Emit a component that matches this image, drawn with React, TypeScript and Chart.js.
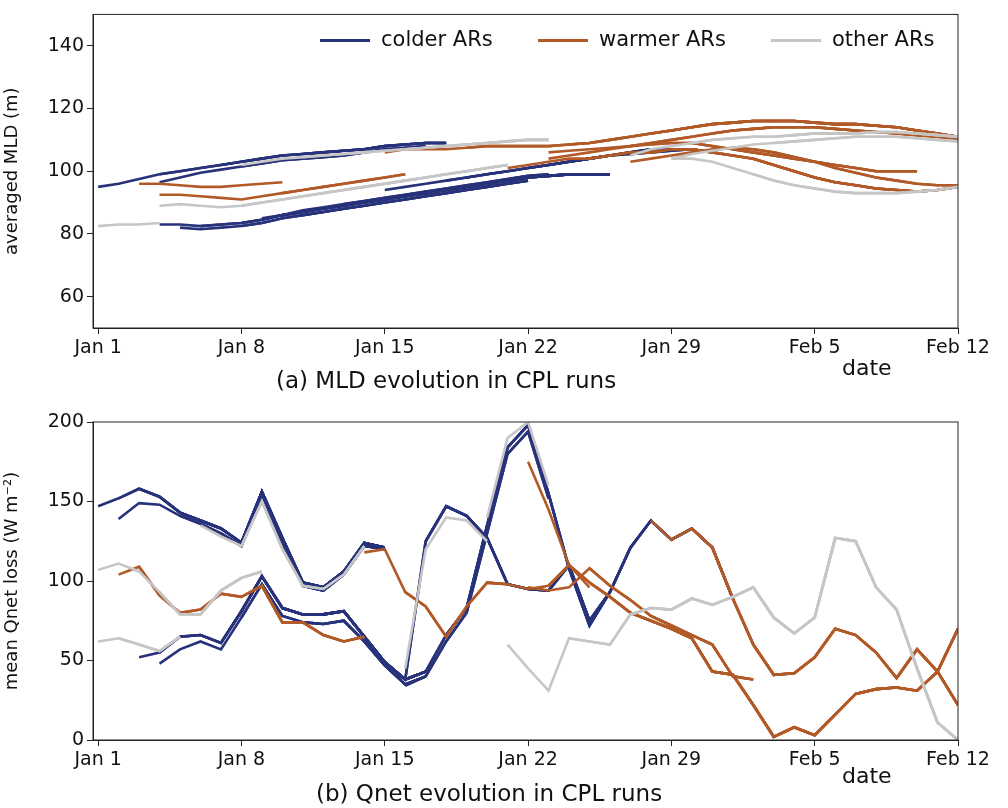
import React, { useEffect, useRef } from "react";
import { Chart, registerables } from "chart.js";
Chart.register(...registerables);

const NAVY = "#27327a";
const ORANGE = "#b25a27";
const GRAY = "#c6c6c6";

const tickDays = [0, 7, 14, 21, 28, 35, 42];
const tickLabels = ["Jan 1", "Jan 8", "Jan 15", "Jan 22", "Jan 29", "Feb 5", "Feb 12"];
const legendLabels = ["colder ARs", "warmer ARs", "other ARs"];
const mldTicks = [60, 80, 100, 120, 140];
const qTicks = [0, 50, 100, 150, 200];

// top panel: MLD (m)
const mldNavyUpper = [95, 96, 97.5, 99, 100, 101, 102, 103, 104, 105, 105.5, 106, 106.5, 107, 108, 108.5, 109, 109];
const mldNavyUpper2 = [96.5, 98, 99.5, 100.5, 101.5, 102.5, 103.5, 104, 104.5, 105, 106, 107, 107.5, 108];
const mldNavyLower = [83, 83, 82.5, 83, 83.5, 84.5, 86, 87, 88, 89, 90, 91, 92, 93, 94, 95, 96, 97, 98, 98.5, 99, 99, 99];
const mldNavyLower2 = [82, 81.5, 82, 82.5, 83.5, 85, 86, 87, 88, 89, 90, 91, 92, 93, 94, 95, 96, 97];
const mldNavyLower3 = [85, 86, 87.5, 88.5, 89.5, 90.5, 91.5, 92.5, 93.5, 94.5, 95.5, 96.5, 97.5, 98.5, 99];
const mldNavyMid = [94, 95, 96, 97, 98, 99, 100, 101, 102, 103, 104, 105, 106, 107, 107, 107, 106];
const mldNavyMid2 = [97, 98, 99, 100, 101, 102, 103, 104, 105, 105.5, 106, 106.5, 107];
const mldOrangeUpper = [106, 107, 107, 107, 107.5, 108, 108, 108, 108, 108.5, 109, 110, 111, 112, 113, 114, 115, 115.5, 116, 116, 116, 115.5, 115, 115, 114.5, 114, 113, 112, 111];
const mldOrangeUpper2 = [106, 106.5, 107, 107.5, 108, 109, 110, 111, 112, 113, 113.5, 114, 114, 114, 113.5, 113, 112.5, 112, 111.5, 111, 110];
const mldOrangeLower = [101, 102, 103, 104, 104, 105, 106, 106, 107, 107, 106, 105, 104, 102, 100, 98, 96.5, 95.5, 94.5, 94, 93.5, 94, 95];
const mldOrangeLower2 = [103, 104, 105, 106, 107, 107.5, 107, 106, 104.5, 103, 101, 99.5, 98, 97, 96, 95.5, 95.5];
const mldOrangeMid = [104, 105, 106, 107, 108, 108.5, 109, 109, 108, 107, 106, 105, 104, 103, 102, 101, 100, 100, 100];
const mldOrangeLeftA = [96, 96, 95.5, 95, 95, 95.5, 96, 96.5];
const mldOrangeLeftB = [92.5, 92.5, 92, 91.5, 91, 92, 93, 94, 95, 96, 97, 98, 99];
const mldGrayA = [82.5, 83, 83, 83.5];
const mldGrayB = [89, 89.5, 89, 88.5, 89, 90, 91, 92, 93, 94, 95, 96, 97, 98, 99, 100, 101, 102];
const mldGrayC = [102, 103, 104, 104.5, 105, 105.5, 106, 106.5, 107, 107.5, 108, 108.5, 109, 109.5, 110, 110];
const mldGrayD = [105, 107, 108, 109, 110, 110.5, 111, 111, 111.5, 112, 112, 112, 112.5, 112.5, 112, 111.5, 111];
const mldGrayD2 = [104, 105.5, 106.5, 107.5, 108.5, 109, 109.5, 110, 110.5, 111, 111, 111, 110.5, 110, 109.5];
const mldGrayE = [104, 104, 103, 101, 99, 97, 95.5, 94.5, 93.5, 93, 93, 93, 93.5, 94, 95];

// bottom panel: Qnet loss (W m-2)
const qNavyHigh = [147, 152, 158, 153, 143, 138, 133, 124, 156, 127, 99, 96, 106, 124, 121];
const qNavyHigh2 = [139, 149, 148, 141, 136, 130, 122, 153, 124, 97, 94, 104, 122, 120];
const qOrangeHigh = [118, 120, 93, 84, 65, 84, 99, 98];
const qNavyMid = [52, 55, 65, 66, 61, 81, 103, 83, 79, 79, 81, 65, 49, 38, 43];
const qNavyMid2 = [48, 57, 62, 57, 77, 98, 78, 74, 73, 75, 62, 47, 35, 40];
const qNavyL1 = [49, 38, 125, 147, 141, 127, 98, 95, 94, 110, 75, 93, 121, 138, 126, 133, 121, 89];
const qOrangeL1 = [138, 126, 133, 121, 89, 60, 41, 42, 52, 70, 66, 55, 39, 57, 43, 22];
const qNavyL2 = [38, 43, 66, 83, 135, 184, 198, 155, 108, 72, 93];
const qNavyL2b = [34, 40, 62, 80, 130, 180, 194, 152];
const qGrayHigh = [135, 128, 122, 150, 120, 97, 95, 104, 122];
const qGrayLeft = [107, 111, 106, 93, 79, 79, 94, 102, 106];
const qOrangeLeft = [104, 109, 91, 80, 82, 92, 90, 97, 74, 74, 66, 62, 65];
const qGrayLow = [62, 64, 60, 56, 65];
const qOrangeMid = [99, 98, 95, 97, 110, 99, 90, 80, 75, 70, 64, 43, 41, 22, 2, 8, 3, 16, 29, 32, 33, 31, 43, 70];
const qOrangeMid2 = [96, 94, 96, 108, 97, 88, 78, 72, 66, 60, 40, 38];
const qGrayRight = [60, 45, 31, 64, 62, 60, 79, 83, 82, 89, 85, 90, 96, 77, 67, 77, 127, 125, 96, 82, 45, 11, 0];
const qOrangePeak = [175, 145, 110, 96];
const qGrayL1 = [45, 120, 140, 138, 125];
const qGrayL2 = [140, 190, 200, 160];

type Spec = [string, number, number[], number[]];

const topSpecs: Spec[] = [
  [GRAY, 0, mldGrayA, [0]],
  [GRAY, 3, mldGrayB, [0, 4, 9]],
  [GRAY, 7, mldGrayC, [0, 3, 8]],
  [GRAY, 26, mldGrayD, [0, 3, 8]],
  [GRAY, 28, mldGrayD2, [0, 5]],
  [GRAY, 28, mldGrayE, [0, 4]],
  [ORANGE, 2, mldOrangeLeftA, [0]],
  [ORANGE, 3, mldOrangeLeftB, [0, 6]],
  [ORANGE, 14, mldOrangeUpper, [0, 4, 9, 13, 17]],
  [ORANGE, 22, mldOrangeUpper2, [0, 4, 8]],
  [ORANGE, 20, mldOrangeLower, [0, 4, 8, 12]],
  [ORANGE, 26, mldOrangeLower2, [0, 5]],
  [ORANGE, 22, mldOrangeMid, [0, 5, 9]],
  [NAVY, 0, mldNavyUpper, [0, 3, 6, 10]],
  [NAVY, 3, mldNavyUpper2, [0, 4]],
  [NAVY, 3, mldNavyLower, [0, 2, 4, 6, 9, 12]],
  [NAVY, 4, mldNavyLower2, [0, 3, 6]],
  [NAVY, 8, mldNavyLower3, [0, 4]],
  [NAVY, 14, mldNavyMid, [0, 4, 8]],
  [NAVY, 17, mldNavyMid2, [0, 4]],
];

const bottomSpecs: Spec[] = [
  [GRAY, 0, qGrayLeft, [0, 3, 5]],
  [GRAY, 0, qGrayLow, [0, 1]],
  [GRAY, 5, qGrayHigh, [0, 2]],
  [GRAY, 15, qGrayL1, [0]],
  [GRAY, 19, qGrayL2, [0]],
  [GRAY, 20, qGrayRight, [0, 3, 6, 10]],
  [ORANGE, 1, qOrangeLeft, [0, 1, 7]],
  [ORANGE, 13, qOrangeHigh, [0, 2]],
  [ORANGE, 21, qOrangePeak, [0]],
  [ORANGE, 19, qOrangeMid, [0, 3, 5, 7, 9]],
  [ORANGE, 21, qOrangeMid2, [0, 3, 6]],
  [ORANGE, 27, qOrangeL1, [0, 1, 2, 3]],
  [NAVY, 0, qNavyHigh, [0, 1, 2, 3, 4, 5, 6]],
  [NAVY, 1, qNavyHigh2, [0, 3, 5]],
  [NAVY, 2, qNavyMid, [0, 1, 2, 4, 5, 7, 8, 9]],
  [NAVY, 3, qNavyMid2, [0, 4, 7, 10]],
  [NAVY, 14, qNavyL1, [0, 1, 2, 3]],
  [NAVY, 15, qNavyL2, [0, 1, 2]],
  [NAVY, 15, qNavyL2b, [0, 1]],
];

function buildDatasets(specs: Spec[]) {
  const out: any[] = [];
  specs.forEach(([color, start, vals, cuts]) => {
    cuts.forEach((c) => {
      out.push({
        data: vals.slice(c).map((v, i) => ({ x: start + c + i, y: v })),
        borderColor: color,
        borderWidth: 2.6,
        pointRadius: 0,
        fill: false,
        tension: 0,
      });
    });
  });
  return out;
}

const frame = {
  id: "frame",
  afterDraw(chart: any) {
    const { ctx, chartArea: a } = chart;
    ctx.save();
    ctx.strokeStyle = "#222";
    ctx.lineWidth = 1;
    ctx.strokeRect(a.left, a.top, a.right - a.left, a.bottom - a.top);
    ctx.restore();
  },
};

const FONT = "'DejaVu Sans', sans-serif";

function makeConfig(specs: Spec[], ymin: number, ymax: number, yticks: number[], ytitle: string, padTop: number, xHeight: number) {
  return {
    type: "line",
    data: { datasets: buildDatasets(specs) },
    plugins: [frame],
    options: {
      animation: false,
      responsive: false,
      layout: { padding: { left: 0, right: 50, top: padTop, bottom: 0 } },
      plugins: { legend: { display: false }, tooltip: { enabled: false } },
      scales: {
        x: {
          type: "linear",
          min: -0.25,
          max: 42,
          afterBuildTicks: (s: any) => { s.ticks = tickDays.map((v) => ({ value: v })); },
          afterFit: (s: any) => { s.height = xHeight; },
          ticks: {
            color: "#111",
            font: { family: FONT, size: 19 },
            maxRotation: 0,
            autoSkip: false,
            callback: (v: any) => tickLabels[tickDays.indexOf(v)],
          },
          grid: { display: true, drawOnChartArea: false, drawTicks: true, tickLength: 6, color: "#222" },
          border: { color: "#222" },
        },
        y: {
          min: ymin,
          max: ymax,
          afterBuildTicks: (s: any) => { s.ticks = yticks.map((v) => ({ value: v })); },
          afterFit: (s: any) => { s.width = 93; },
          ticks: { color: "#111", font: { family: FONT, size: 19 } },
          title: { display: true, text: ytitle, color: "#111", font: { family: FONT, size: 18 }, padding: 2 },
          grid: { display: true, drawOnChartArea: false, drawTicks: true, tickLength: 6, color: "#222" },
          border: { color: "#222" },
        },
      },
    },
  };
}

function Panel({ config, top }: { config: any; top: number }) {
  const ref = useRef<HTMLCanvasElement>(null);
  useEffect(() => {
    const c = new Chart(ref.current as HTMLCanvasElement, config);
    return () => c.destroy();
  }, []);
  return <canvas ref={ref} width={1008} height={400} style={{ position: "absolute", left: 0, top, width: 1008, height: 400 }} />;
}

const textStyle: React.CSSProperties = { position: "absolute", fontFamily: FONT, fontSize: 21, color: "#111", whiteSpace: "nowrap" };

export default function App() {
  const topCfg = makeConfig(topSpecs, 50, 150, mldTicks, "averaged MLD (m)", 10, 72);
  const botCfg = makeConfig(bottomSpecs, 0, 200, qTicks, "mean Qnet loss (W m\u207B\u00B2)", 22, 60);
  const legendColors = [NAVY, ORANGE, GRAY];
  const legendX = [320, 538, 771];
  return (
    <div style={{ position: "fixed", left: 0, top: 0, width: 1008, height: 808, background: "#fff", overflow: "hidden" }}>
      <Panel config={topCfg} top={0} />
      <Panel config={botCfg} top={400} />
      {legendLabels.map((l, i) => (
        <div key={l}>
          <div style={{ position: "absolute", left: legendX[i], top: 39, width: 50, height: 3, background: legendColors[i] }} />
          <div style={{ ...textStyle, left: legendX[i] + 61, top: 27 }}>{l}</div>
        </div>
      ))}
      <div style={{ ...textStyle, fontSize: 22, left: 842, top: 355 }}>date</div>
      <div style={{ ...textStyle, fontSize: 23, left: 276, top: 367 }}>(a) MLD evolution in CPL runs</div>
      <div style={{ ...textStyle, fontSize: 22, left: 842, top: 763 }}>date</div>
      <div style={{ ...textStyle, fontSize: 23, left: 316, top: 780 }}>(b) Qnet evolution in CPL runs</div>
    </div>
  );
}
